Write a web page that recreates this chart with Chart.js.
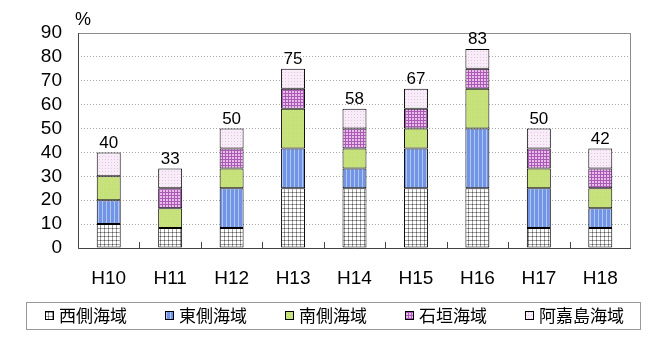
<!DOCTYPE html>
<html>
<head>
<meta charset="utf-8">
<script src="https://cdn.jsdelivr.net/npm/chart.js@4/dist/chart.umd.min.js"></script>
<style>
  html, body { margin: 0; padding: 0; background: #fff; }
  #wrap { width: 650px; height: 344px; }
</style>
</head>
<body>
<div id="wrap"><canvas id="myChart" width="650" height="344"></canvas></div>
<script>
// years
const years = ['H10', 'H11', 'H12', 'H13', 'H14', 'H15', 'H16', 'H17', 'H18'];
// sea areas (%), stacked
const west     = [10, 8.33, 8.33, 25, 25, 25, 25, 8.33, 8.33];
const east     = [10, 0, 16.67, 16.67, 8.33, 16.67, 25, 16.67, 8.33];
const south    = [10, 8.33, 8.33, 16.67, 8.33, 8.33, 16.67, 8.33, 8.33];
const ishigaki = [0, 8.33, 8.33, 8.33, 8.33, 8.33, 8.33, 8.33, 8.33];
const akajima  = [10, 8.33, 8.33, 8.33, 8.33, 8.33, 8.33, 8.33, 8.33];
const seriesNames = ['西側海域', '東側海域', '南側海域', '石垣海域', '阿嘉島海域'];
const yTicks = [0, 10, 20, 30, 40, 50, 60, 70, 80, 90];

const numFont = '"Liberation Sans", Arial, sans-serif';
const jpFont = '"Noto Sans CJK JP", sans-serif';

// small canvas tiles for the hatch fills
function makePattern(size, draw) {
    const c = document.createElement('canvas');
    c.width = size;
    c.height = size;
    const g = c.getContext('2d');
    draw(g, size);
    return g.createPattern(c, 'repeat');
}

const ctx = document.getElementById('myChart').getContext('2d');

const westFill = makePattern(4, function (g) {
    g.fillStyle = '#ffffff';
    g.fillRect(0, 0, 4, 4);
    g.fillStyle = '#a0a0a0';
    g.fillRect(0, 0, 4, 1);
    g.fillRect(0, 0, 1, 4);
    g.fillStyle = '#555555';
    g.fillRect(0, 0, 1, 1);
});
const eastFill = makePattern(4, function (g) {
    g.fillStyle = '#7294e4';
    g.fillRect(0, 0, 4, 4);
    g.fillStyle = '#b2c6f6';
    g.fillRect(2, 0, 1, 4);
});
const southFill = makePattern(2, function (g) {
    g.fillStyle = '#c8e27c';
    g.fillRect(0, 0, 2, 2);
    g.fillStyle = '#c2dc76';
    g.fillRect(0, 0, 1, 1);
});
const ishigakiFill = makePattern(3, function (g) {
    g.fillStyle = '#a85ab4';
    g.fillRect(0, 0, 3, 3);
    g.fillStyle = '#eabcea';
    g.fillRect(1, 1, 2, 2);
});
const akajimaFill = makePattern(3, function (g) {
    g.fillStyle = '#f7ecf7';
    g.fillRect(0, 0, 3, 3);
    g.fillStyle = '#e2c6e2';
    g.fillRect(0, 0, 1, 1);
});

const fills = [westFill, eastFill, southFill, ishigakiFill, akajimaFill];
const values = [west, east, south, ishigaki, akajima];

const datasets = values.map(function (v, i) {
    return {
        label: seriesNames[i],
        data: v,
        backgroundColor: fills[i],
        borderColor: '#000000',
        borderWidth: function (c) { return c.raw ? 1 : 0; },
        borderSkipped: false
    };
});

// frame, inner ticks, totals, % label and the boxed legend
const decor = {
    id: 'decor',
    afterDatasetsDraw: function (chart) {
        const c = chart.ctx;
        const area = chart.chartArea;
        const xs = chart.scales.x;

        c.save();
        // plot frame (top / right)
        c.strokeStyle = '#8c8c8c';
        c.lineWidth = 1;
        c.beginPath();
        c.moveTo(area.left, area.top + 0.5);
        c.lineTo(area.right - 0.5, area.top + 0.5);
        c.lineTo(area.right - 0.5, area.bottom);
        c.stroke();

        // axis lines (left / bottom)
        c.strokeStyle = '#444444';
        c.beginPath();
        c.moveTo(area.left + 0.5, area.top);
        c.lineTo(area.left + 0.5, area.bottom + 0.5);
        c.lineTo(area.right, area.bottom + 0.5);
        c.stroke();

        // small inward tick marks between categories
        c.beginPath();
        for (let i = 1; i < years.length; i++) {
            const x = Math.round((xs.getPixelForTick(i - 1) + xs.getPixelForTick(i)) / 2) + 0.5;
            c.moveTo(x, area.bottom - 6);
            c.lineTo(x, area.bottom);
        }
        c.stroke();

        // totals above each bar
        const topMeta = chart.getDatasetMeta(chart.data.datasets.length - 1);
        c.fillStyle = '#000000';
        c.font = '17px ' + numFont;
        c.textAlign = 'center';
        c.textBaseline = 'bottom';
        years.forEach(function (y, i) {
            let total = 0;
            values.forEach(function (v) { total += v[i]; });
            const bar = topMeta.data[i];
            c.fillText(String(Math.round(total)), bar.x, bar.y - 1);
        });

        // % unit
        c.font = '18px ' + numFont;
        c.textAlign = 'left';
        c.textBaseline = 'alphabetic';
        c.fillText('%', 75, 25);

        // legend box
        c.strokeStyle = '#999999';
        c.strokeRect(26.5, 302.5, 614, 27);
        c.font = '17px ' + jpFont;
        c.textBaseline = 'middle';
        chart.data.datasets.forEach(function (ds, i) {
            const bx = 45 + i * 120;
            c.fillStyle = ds.backgroundColor;
            c.fillRect(bx, 311, 9, 9);
            c.strokeStyle = '#000000';
            c.strokeRect(bx + 0.5, 311.5, 8, 8);
            c.fillStyle = '#000000';
            c.fillText(ds.label, bx + 14, 316);
        });
        c.restore();
    }
};

const myChart = new Chart(ctx, {
    type: 'bar',
    data: {
        labels: years,
        datasets: datasets
    },
    options: {
        responsive: false,
        animation: false,
        layout: {
            padding: { top: 33, right: 19, left: 0, bottom: 51 }
        },
        plugins: {
            legend: { display: false },
            tooltip: { enabled: false }
        },
        datasets: {
            bar: { categoryPercentage: 1, barPercentage: 0.39 }
        },
        scales: {
            x: {
                stacked: true,
                afterFit: function (s) { s.height = 45; },
                grid: { display: false },
                border: { display: false },
                ticks: {
                    color: '#000000',
                    padding: 11,
                    font: { family: numFont, size: 19 }
                }
            },
            y: {
                stacked: true,
                min: 0,
                max: 90,
                afterFit: function (s) { s.width = 78; },
                afterBuildTicks: function (s) {
                    s.ticks = yTicks.map(function (v) { return { value: v }; });
                },
                grid: {
                    color: '#a8a8a8',
                    drawTicks: false
                },
                border: { display: false, dash: [1, 2] },
                ticks: {
                    color: '#000000',
                    padding: 16,
                    autoSkip: false,
                    font: { family: numFont, size: 19 }
                }
            }
        }
    },
    plugins: [decor]
});
</script>
</body>
</html>
